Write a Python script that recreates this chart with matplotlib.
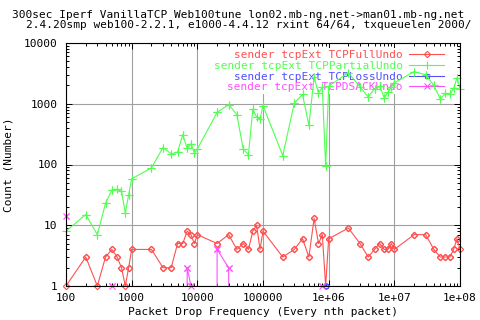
import matplotlib
matplotlib.use('Agg')
import matplotlib.pyplot as plt

# packet drop frequency (every nth packet)
freq = [100, 200, 300, 400, 500, 600, 700, 800, 900,
        1e3, 2e3, 3e3, 4e3, 5e3, 6e3, 7e3, 8e3, 9e3,
        1e4, 2e4, 3e4, 4e4, 5e4, 6e4, 7e4, 8e4, 9e4,
        1e5, 2e5, 3e5, 4e5, 5e5, 6e5, 7e5, 8e5, 9e5,
        1e6, 2e6, 3e6, 4e6, 5e6, 6e6, 7e6, 8e6, 9e6,
        1e7, 2e7, 3e7, 4e7, 5e7, 6e7, 7e7, 8e7, 9e7,
        1e8]

full_undo = [1, 3, 1, 3, 4, 3, 2, 1, 2,
             4, 4, 2, 2, 5, 5, 8, 7, 5,
             7, 5, 7, 4, 5, 4, 8, 10, 4,
             8, 3, 4, 6, 3, 13, 5, 7, 1,
             6, 9, 5, 3, 4, 5, 4, 4, 5,
             4, 7, 7, 4, 3, 3, 3, 4, 6,
             4]

partial_undo = [8, 15, 7, 23, 38, 39, 36, 16, 32,
                58, 88, 190, 150, 160, 310, 185, 220, 155,
                180, 720, 970, 660, 180, 145, 820, 600, 560,
                930, 140, 1030, 1420, 440, 2750, 1500, 1870, 93,
                1950, 3240, 1900, 1300, 1760, 1950, 1250, 1550, 1900,
                2200, 3380, 3000, 2000, 1200, 1480, 1420, 1790, 2680,
                1760]

loss_undo = [0, 0, 0, 0, 0, 0, 0, 0, 0,
             0, 0, 0, 0, 0, 0, 0, 0, 0,
             0, 0, 0, 0, 0, 0, 0, 0, 0,
             0, 0, 0, 0, 0, 0, 0, 0, 1,
             0, 0, 0, 0, 0, 0, 0, 0, 0,
             0, 0, 0, 0, 0, 0, 0, 0, 0,
             0]

dsack_undo = [14, 0, 0, 0, 1, 0, 0, 0, 0,
              0, 0, 0, 0, 0, 0, 2, 1, 0,
              0, 4, 2, 0, 0, 0, 0, 0, 0,
              0, 0, 0, 0, 0, 0, 0, 1, 0,
              0, 0, 0, 0, 0, 0, 0, 0, 0,
              0, 0, 0, 0, 0, 0, 0, 0, 0,
              0]

xticks = [100, 1000, 10000, 100000, 1e6, 1e7, 1e8]
xticklabels = ['100', '1000', '10000', '100000', '1e+06', '1e+07', '1e+08']
yticks = [1, 10, 100, 1000, 10000]
yticklabels = ['1', '10', '100', '1000', '10000']

title1 = '300sec Iperf VanillaTCP Web100tune lon02.mb-ng.net->man01.mb-ng.net'
title2 = '2.4.20smp web100-2.2.1, e1000-4.4.12 rxint 64/64, txqueuelen 2000/'

plt.rcParams['font.family'] = 'DejaVu Sans Mono'
plt.rcParams['font.size'] = 8

fig = plt.figure(figsize=(4.8, 3.2), dpi=100)
ax = fig.add_axes([66/480, 1-286/320, 394/480, 243/320])

series = [
    (full_undo, 'sender tcpExt TCPFullUndo', '#ff5050', 'D', 3.2, 'none'),
    (partial_undo, 'sender tcpExt TCPPartialUndo', '#50ff50', '+', 5.5, None),
    (loss_undo, 'sender tcpExt TCPLossUndo', '#5050ff', 's', 3.5, 'none'),
    (dsack_undo, 'sender tcpExt TCPDSACKUndo', '#ff50ff', 'x', 4, None),
]

for vals, lab, col, mk, ms, mfc in series:
    kw = dict(marker=mk, markersize=ms, markeredgewidth=0.8, color=col)
    if mfc:
        kw['markerfacecolor'] = mfc
    ax.plot(freq, vals, lw=0.8, label=lab, zorder=2, **kw)
    # points sitting on the bottom border should not be cut in half
    px = [f for f, v in zip(freq, vals) if v > 0]
    py = [v for v in vals if v > 0]
    ax.plot(px, py, ls='none', clip_on=False, zorder=2, **kw)

ax.set_xscale('log')
ax.set_yscale('log')
ax.set_xlim(100, 1e8)
ax.set_ylim(1, 10000)
ax.set_xticks(xticks, xticklabels)
ax.set_yticks(yticks, yticklabels)
ax.tick_params(which='both', direction='in', top=True, right=True, width=0.7, color='black')
ax.tick_params(which='major', length=4.3)
ax.tick_params(which='minor', length=2.2)
ax.tick_params(axis='y', pad=6)
ax.tick_params(axis='x', pad=5)
ax.set_axisbelow(True)
ax.grid(True, which='major', color='#a0a0a0', lw=0.8)
for s in ax.spines.values():
    s.set_linewidth(0.8)

ax.set_xlabel('Packet Drop Frequency (Every nth packet)', labelpad=3)
ax.set_ylabel('Count (Number)')
ax.yaxis.set_label_coords(-53/394, 0.5)

leg = ax.legend(loc='upper right', bbox_to_anchor=(1 - 14/394, 1 - 5/243),
                frameon=True, markerfirst=False, numpoints=1,
                handlelength=3.1, handletextpad=0.6, labelspacing=0.06,
                borderpad=0.2, borderaxespad=0)
leg.get_frame().set_edgecolor('none')
leg.get_frame().set_facecolor('white')
leg.get_frame().set_alpha(1)
leg.set_zorder(1)
for t, (_, _, col, _, _, _) in zip(leg.get_texts(), series):
    t.set_color(col)

fig.text(238/480, 1-14.5/320, title1, ha='center', va='center')
fig.text(26/480, 1-25.5/320, title2, ha='left', va='center')

fig.savefig('out.png', dpi=100)
